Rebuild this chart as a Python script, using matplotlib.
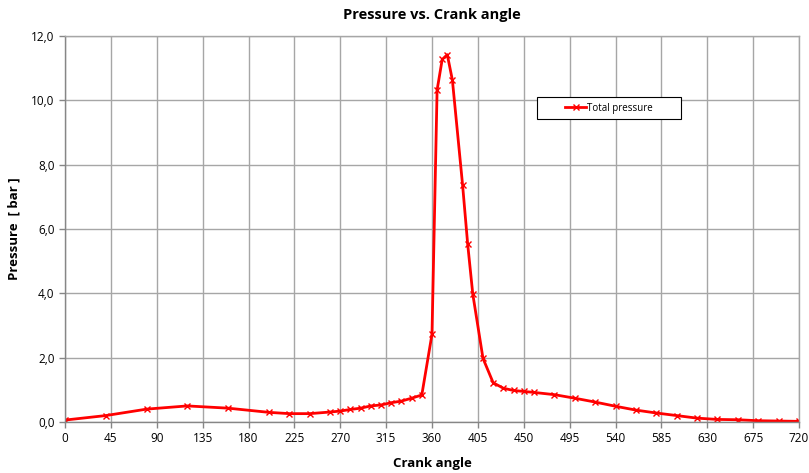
import matplotlib
matplotlib.use("Agg")
import matplotlib.pyplot as plt
from matplotlib.ticker import FuncFormatter
from matplotlib.patches import Rectangle

crank_angle = [0, 40, 80, 120, 160, 200, 220, 240, 260, 270, 280, 290, 300, 310,
               320, 330, 340, 350, 360, 365, 370, 375, 380, 390, 395, 400, 410,
               420, 430, 440, 450, 460, 480, 500, 520, 540, 560, 580, 600, 620,
               640, 660, 680, 700, 720]
total_pressure = [0.06, 0.20, 0.40, 0.50, 0.43, 0.30, 0.26, 0.26, 0.31, 0.34, 0.39,
                  0.43, 0.50, 0.53, 0.60, 0.65, 0.74, 0.84, 2.73, 10.32, 11.27,
                  11.42, 10.63, 7.37, 5.53, 3.98, 1.98, 1.22, 1.05, 0.98, 0.95,
                  0.92, 0.85, 0.74, 0.62, 0.49, 0.37, 0.28, 0.20, 0.12, 0.08,
                  0.07, 0.04, 0.03, 0.02]
x_ticks = list(range(0, 721, 45))
y_ticks = [0, 2, 4, 6, 8, 10, 12]

plt.rcParams['font.family'] = ['Open Sans', 'DejaVu Sans']

fig = plt.figure(figsize=(8.09, 4.73), dpi=100)
W, H = 809, 473
ax_w, ax_h = 799 - 65, 422 - 36
ax = fig.add_axes([65 / W, 1 - 422 / H, ax_w / W, ax_h / H])

ax.plot(crank_angle, total_pressure, color='#ff0000', lw=2.0, marker='x',
        ms=4, mew=1.0, label='Total pressure')

ax.set_xlim(0, 720)
ax.set_ylim(0, 12)
ax.set_xticks(x_ticks)
ax.set_yticks(y_ticks)
ax.yaxis.set_major_formatter(FuncFormatter(lambda v, p: f"{v:.1f}".replace('.', ',')))
ax.grid(True, color='#a6a6a6', lw=1.0)
ax.set_axisbelow(True)
for s in ax.spines.values():
    s.set_color('#a6a6a6')
    s.set_linewidth(1.0)
ax.spines['left'].set_color('#868686')
ax.spines['bottom'].set_color('#868686')
ax.tick_params(axis='both', colors='#868686', labelcolor='black', labelsize=8.5,
               length=4, width=1)

ax.set_title('Pressure vs. Crank angle', fontsize=10.5, fontweight='bold', pad=12)
ax.set_xlabel('Crank angle', fontsize=9.5, fontweight='bold', labelpad=8)
ax.set_ylabel('Pressure  [ bar ]', fontsize=9.5, fontweight='bold', labelpad=8)

# legend frame box (pixel box 537-681 x 97-119)
bx0 = (537 - 65) / ax_w
by0 = 1 - (119 - 36) / ax_h
bw = (681 - 537) / ax_w
bh = (119 - 97) / ax_h
ax.add_patch(Rectangle((bx0, by0), bw, bh, transform=ax.transAxes,
                       facecolor='white', edgecolor='black', lw=0.8, zorder=5))
leg = ax.legend(loc='center', bbox_to_anchor=(bx0 + bw / 2, by0 + bh / 2),
                fontsize=7, frameon=False, handlelength=2.2, handletextpad=0.1,
                borderaxespad=0, borderpad=0)
leg.set_zorder(6)

fig.savefig('out.png', dpi=100)
